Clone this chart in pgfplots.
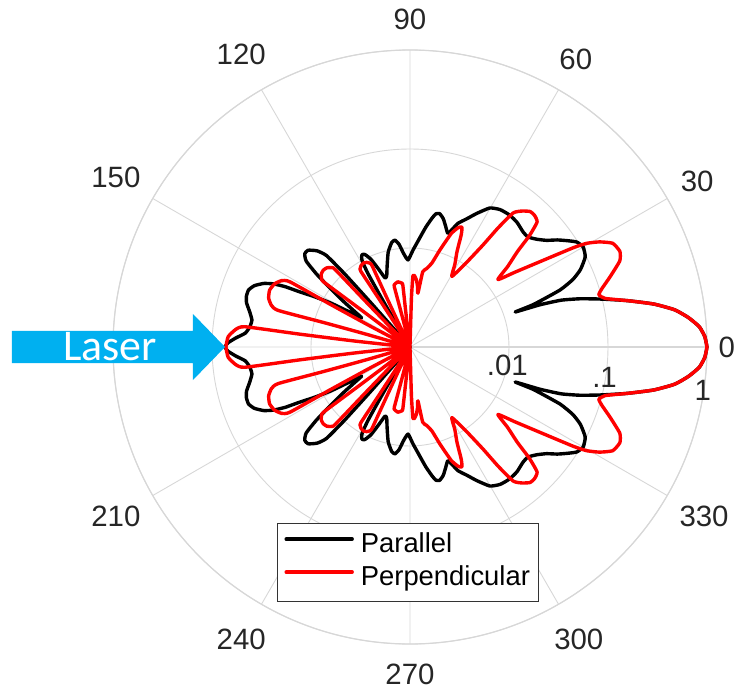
\documentclass[border=0pt]{standalone}
\usepackage{pgfplots}
\pgfplotsset{compat=1.18}
\usepackage{pgfplotstable}
\usepgfplotslibrary{polar}
\usepackage{fontspec}
\setmainfont{Liberation Sans}
\newfontfamily\laserfont{Carlito}
\definecolor{laserblue}{RGB}{0,176,240}
\definecolor{gridgray}{RGB}{215,215,215}
\tikzset{lbl/.style={anchor=center, inner sep=0pt, font=\fontsize{29.5}{34}\selectfont, text=black!85}}

% radial value d = log10(intensity) + 3  (centre = 0.001, outer circle = 1)
\pgfplotstableread{
a d
0 3.00
2 2.98
4 2.93
6 2.83
8 2.70
10 2.50
12 2.25
14 2.00
15.8 1.79
17.2 1.60
18.0 1.38
18.4 1.12
19.0 1.32
20.8 1.62
22.5 1.78
24.4 1.89
27.2 1.99
30 2.02
32.2 1.99
34 1.92
36 1.84
38 1.75
40.4 1.68
43 1.63
45.5 1.63
49.4 1.66
53 1.67
56.7 1.66
60.1 1.62
63.4 1.51
66 1.42
68.8 1.34
70.3 1.26
71.6 1.21
73.5 1.27
75.5 1.34
77.5 1.38
79 1.37
80.3 1.32
82.5 1.22
84.8 1.11
88.2 0.98
91.3 0.88
94 0.95
96 1.04
98 1.09
100 1.07
103 0.98
106 0.84
108 0.76
109.8 0.74
112 0.85
114 0.97
116 1.04
117.6 1.05
119 1.00
119.8 0.85
120.3 0.50
120.8 0.03
131.2 0.03
131.5 0.60
131.8 1.00
132.4 1.25
134 1.35
136.5 1.42
138.5 1.42
140.4 1.36
142 1.20
143.2 1.05
145.5 0.82
147.5 0.65
149 0.57
150 0.72
151 0.92
152.3 1.10
153.4 1.24
154.2 1.40
155.2 1.52
156.5 1.61
158.5 1.69
160.6 1.73
162.8 1.73
164.9 1.71
167.5 1.66
170.3 1.62
172.8 1.63
175.2 1.67
177 1.76
178.7 1.84
180 1.87
}\tabpar

\pgfplotstableread{
a d
0 3.00
2 2.98
4 2.93
6 2.83
8 2.70
10 2.50
12 2.25
14 2.03
15.5 1.98
17 2.03
19.3 2.14
22.3 2.29
24.5 2.33
27.1 2.30
29 2.19
30.4 2.07
31.3 1.93
33.5 1.54
35.5 1.30
37.5 1.12
39.5 1.28
41.6 1.45
43 1.65
44.5 1.80
46.5 1.83
48.4 1.83
50.5 1.78
52.4 1.71
53.5 1.50
54.4 1.27
56.2 1.03
59.3 0.83
61.5 0.95
63.7 1.07
65.5 1.25
66.6 1.32
68 1.30
70 1.22
72.8 1.03
75.3 0.88
78 0.81
80.4 0.77
81.6 0.55
83 0.62
84.5 0.68
86.3 0.72
87.6 0.72
88.3 0.50
88.8 0.03
97.2 0.03
97.1 0.20
96.8 0.40
96.6 0.63
97.26 0.65
98.7 0.66
100.6 0.67
102.5 0.66
103.94 0.65
104.6 0.63
104.4 0.40
104.1 0.20
104.0 0.03
115.8 0.03
115.5 0.29
115.2 0.58
115.0 0.91
115.66 0.94
117.1 0.96
119 0.97
120.9 0.96
122.34 0.94
123.0 0.91
122.8 0.58
122.5 0.29
122.2 0.03
134.9 0.03
134.54 0.35
134.2 0.70
134.0 1.09
134.75 1.13
136.4 1.16
138.5 1.17
140.6 1.16
142.25 1.13
143.0 1.09
142.8 0.70
142.46 0.35
142.1 0.03
152.8 0.03
152.28 0.46
151.82 0.92
151.5 1.38
152.67 1.46
155.03 1.51
158 1.53
160.97 1.51
163.33 1.46
164.5 1.38
164.18 0.92
163.72 0.46
163.2 0.03
174.4 0.03
173.84 0.56
173.35 1.12
173.0 1.68
174.26 1.77
176.78 1.84
180 1.86
}\tabperp

\begin{document}
\begin{tikzpicture}
\useasboundingbox (-410bp,-344bp) rectangle (324bp,347bp);
\begin{polaraxis}[
  at={(0,0)}, anchor=center,
  scale only axis, width=594bp, height=594bp,
  ymin=0, ymax=3,
  xtick={0,30,...,330}, xticklabels={},
  ytick={1,2,3}, yticklabels={},
  grid=major,
  major grid style={draw=gridgray, line width=0.9bp},
  axis line style={draw=gridgray, line width=1.2bp},
  major tick length=0pt,
  clip=false,
  legend style={at={(0.497,0.137)}, anchor=center, draw=black!80, line width=1bp,
    fill=white, font=\fontsize{27.5}{32}\selectfont, inner sep=7bp, row sep=2bp,
    column sep=5bp,
    nodes={inner sep=2bp, text height=20bp, text depth=7bp}},
  legend cell align=left,
  legend image code/.code={\draw[#1, line width=3.4bp] (0bp,7bp) -- (66bp,7bp);},
  every axis plot/.append style={line width=3.4bp, line join=round, line cap=round, smooth, tension=0.3},
]
\addplot[black] table[x=a, y=d] {\tabpar};
\addlegendentry{Parallel}
\addplot[black, forget plot] table[x expr=-\thisrow{a}, y=d] {\tabpar};
\addplot[red] table[x=a, y=d] {\tabperp};
\addlegendentry{Perpendicular}
\addplot[red, forget plot] table[x expr=-\thisrow{a}, y=d] {\tabperp};

\node[lbl] at (axis cs:0,3.20) {0};
\node[lbl] at (axis cs:30,3.35) {30};
\node[lbl] at (axis cs:60,3.35) {60};
\node[lbl] at (axis cs:90,3.31) {90};
\node[lbl] at (axis cs:120,3.41) {120};
\node[lbl] at (axis cs:150,3.43) {150};
\node[lbl] at (axis cs:210,3.43) {210};
\node[lbl] at (axis cs:240,3.41) {240};
\node[lbl] at (axis cs:270,3.31) {270};
\node[lbl] at (axis cs:300,3.41) {300};
\node[lbl] at (axis cs:330,3.43) {330};
\node[lbl] at (axis cs:349.5,1.0) {.01};
\node[lbl] at (axis cs:351,1.99) {.1};
\node[lbl] at (axis cs:351.65,2.99) {1};
\end{polaraxis}
\fill[laserblue] (-398bp,16bp) -- (-217bp,16bp) -- (-217bp,33bp) -- (-185bp,0bp)
  -- (-217bp,-33bp) -- (-217bp,-16bp) -- (-398bp,-16bp) -- cycle;
\node[text=white, inner sep=0pt, font=\laserfont\fontsize{44}{50}\selectfont] at (-300bp,0bp) {Laser};
\end{tikzpicture}
\end{document}
